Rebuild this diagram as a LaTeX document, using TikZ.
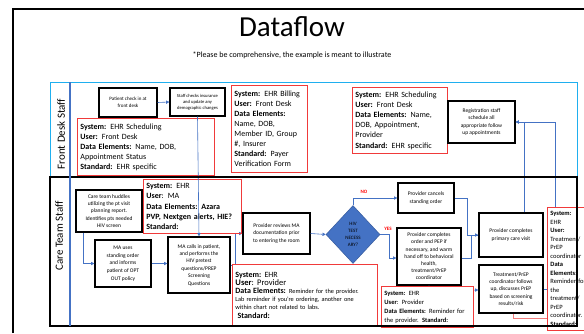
\documentclass[tikz,border=0pt]{standalone}
\usepackage{fontspec}
\setmainfont{Carlito}
\usetikzlibrary{arrows.meta,shapes.geometric,calc}
\definecolor{flowblue}{HTML}{4472C4}
\definecolor{laneblue}{HTML}{1FAFEF}
\definecolor{infored}{HTML}{F03A3A}
\definecolor{linkpink}{HTML}{F27C7C}
\newcommand\fsz[2]{\fontsize{#1}{#2}\selectfont}

\begin{document}
\begin{tikzpicture}[x=1pt,y=-1pt,
  procbox/.style 2 args={draw=black, line width=1.3pt, fill=white, align=center,
    inner sep=1pt, minimum width=#1, minimum height=#2},
  infobox/.style 2 args={draw=infored, line width=0.9pt, fill=white, align=left,
    inner sep=3pt, anchor=north west, text width=#1, minimum height=#2},
  flow/.style={draw=flowblue, line width=0.6pt, -{Triangle[length=3.2pt,width=3.2pt]}},
  plain/.style={draw=flowblue, line width=0.6pt},
  lanelabel/.style={rotate=90, font=\fsz{11}{12}},
  decision/.style={diamond, draw=flowblue!80!black, line width=0.5pt, fill=flowblue,
    align=center, inner sep=0pt, minimum width=54pt, minimum height=58pt},
  answer/.style={text=red, font=\bfseries\fsz{5}{6}}
]
\useasboundingbox (0,0) rectangle (584,333);
\clip (0,0) rectangle (584,333);
\fill[white] (0,0) rectangle (584,333);

% slide frame
\draw[line width=2pt] (13,333) -- (13,8.5) -- (590,8.5);

% heading
\node (title) at (292,27) {\fsz{29}{30}Dataflow};
\node (subtitle) at (292,55) {\fsz{8}{9}*Please be comprehensive, the example is meant to illustrate};

% lane labels
\node[lanelabel] (fdlabel) at (61,134) {Front Desk Staff};
\node[lanelabel] (ctlabel) at (59,236) {Care Team Staff};

% ---------------- Front desk lane ----------------
\node[procbox={58pt}{29pt}, font=\fsz{5}{6.5}] (checkin) at (128,102.5)
  {Patient check in at\\front desk};
\node[procbox={55pt}{28pt}, font=\fsz{4.6}{6}] (insur) at (197.5,102)
  {Staff checks insurance\\and update any\\demographic changes};
\node[infobox={131pt}{57pt}, font=\fsz{8}{10}] (schedA) at (77,118)
  {\textbf{System:} EHR Scheduling\\\textbf{User:} Front Desk\\\textbf{Data Elements:} Name, DOB,\\Appointment Status\\\textbf{Standard:} EHR specific};
\node[infobox={70pt}{87pt}, font=\fsz{8}{10}] (billing) at (231,85)
  {\textbf{System:} EHR Billing\\\textbf{User:} Front Desk\\\textbf{Data Elements:}\\Name, DOB,\\Member ID, Group\\\#, Insurer\\\textbf{Standard:} Payer\\Verification Form};
\node[infobox={89pt}{66pt}, font=\fsz{8}{10.2}] (schedB) at (352,87)
  {\textbf{System:} EHR Scheduling\\\textbf{User:} Front Desk\\\textbf{Data Elements:} Name,\\DOB, Appointment,\\Provider\\\textbf{Standard:} EHR specific};
\node[procbox={67pt}{42pt}, font=\fsz{5.5}{7.2}] (register) at (481.5,122)
  {Registration staff\\schedule all\\appropriate follow\\up appointments};

% ---------------- Care team lane ----------------
\node[procbox={66pt}{42pt}, font=\fsz{5.5}{7.2}] (huddle) at (109,211)
  {Care team huddles\\utilizing the pt visit\\planning report.\\Identifies pts needed\\HIV screen};
\node[procbox={56pt}{47pt}, font=\fsz{5.5}{7.6}] (optout) at (123,263.5)
  {MA uses\\standing order\\and informs\\patient of OPT\\OUT policy};
\node[procbox={62pt}{56pt}, font=\fsz{5.5}{7.4}] (pretest) at (199,265)
  {MA calls in patient,\\and performs the\\HIV pretest\\questions/PREP\\Screening\\Questions};
\node[procbox={67pt}{41pt}, font=\fsz{5.5}{7.8}] (review) at (276.5,233.5)
  {Provider reviews MA\\documentation prior\\to entering the room};
\node[decision, font=\fsz{5}{7}] (hivtest) at (353,234.5) {HIV\\TEST\\NECESS\\ARY?};
\node[procbox={56pt}{30pt}, font=\fsz{5.5}{7.5}] (cancel) at (426,198)
  {Provider cancels\\standing order};
\node[procbox={64pt}{57pt}, font=\fsz{5.5}{7.2}] (warm) at (429,256.5)
  {Provider completes\\order and PEP if\\necessary, and warm\\hand off to behavioral\\health,\\treatment/PrEP\\coordinator};
\node[procbox={64pt}{44pt}, font=\fsz{5.5}{7.5}] (primary) at (511,235)
  {Provider completes\\primary care visit};
\node[procbox={64pt}{48pt}, font=\fsz{5.5}{7.4}] (followup) at (511,289)
  {Treatment/PrEP\\coordinator follows\\up, discusses PrEP\\based on screening\\results/risk};

% connectors
\draw[flow] (checkin.east) -- (insur.west);
\draw[flow] ($(huddle.south west)+(8,0)$) |- (optout.west);
\draw[flow] (optout.east) -- (pretest.west |- optout.east);
\draw[flow] (pretest.east) -- ++(5,0) |- (review.west);
\draw[flow] (review.east) -- (hivtest.west);
\draw[flow] (hivtest.north) |- (cancel.west);
\draw[flow] (hivtest.east) -- ++(9.5,0) |- ($(warm.west)+(0,1.5)$);
\draw[flow] (cancel.east) -- ++(13,0) |- (primary.west);
\draw[plain] ($(warm.east)+(0,1.5)$) -- ++(10,0) |- (primary.west);
\draw[flow] (warm.south) -- ++(0,5) -- ($(followup.west)+(0,1)$);
\draw[flow] ($(primary.north east)+(-19,0)$) |- (register.east);
\draw[flow] (followup.east) -- ++(12,0) |- (register.east);
\draw[line width=0.9pt, draw=linkpink] ($(followup.south)+(2,0)$) -- ++(0,5) -- ++(34,0);

\node[answer] (nolabel) at (364,192) {NO};
\node[answer] (yeslabel) at (388,228.5) {YES};

% notes of the care lane
\node[infobox={92pt}{54pt}, font=\fsz{8}{10.4}, fill=none] (maNote) at (143,179)
  {\textbf{System:} EHR\\\textbf{User}: MA\\\textbf{Data Elements: Azara}\\\textbf{PVP, Nextgen alerts, HIE?}\\\textbf{Standard:}};
\draw[flow] (insur.south) -- (pretest.north);
\node[infobox={139pt}{62pt}, font=\fsz{6.3}{8}] (provNote) at (232,264)
  {{\fsz{8}{11}\textbf{System:} EHR}\\{\fsz{8.5}{11}\textbf{User}: Provider}\\{\fsz{8}{11}\textbf{Data Elements:}} Reminder for the provider.\\Lab reminder if you're ordering, another one\\within chart not related to labs.\\[1pt]{\fsz{8}{10}\ \textbf{Standard:}}};
\node[infobox={86pt}{41pt}, font=\fsz{6.5}{9}] (provNoteB) at (381,286)
  {\textbf{System:} EHR\\\textbf{User}: Provider\\\textbf{Data Elements:} Reminder for\\the provider. \textbf{Standard:}};
\node[infobox={52pt}{123pt}, font=\fsz{6.5}{8.5}] (coordNote) at (547,207)
  {\textbf{System:}\\EHR\\\textbf{User:}\\Treatment/\\PrEP\\coordinator\\\textbf{Data}\\\textbf{Elements:}\\Reminder for\\the\\treatment/\\PrEP\\coordinator.\\\textbf{Standard:}};

% swim lanes
\draw[laneblue, line width=1pt] (50,82) rectangle (577,177);
\draw[black, line width=1.5pt] (50,177) rectangle (577,326);
\draw[flowblue, line width=2.5pt] (70,82) -- (70,326);
\end{tikzpicture}
\end{document}
